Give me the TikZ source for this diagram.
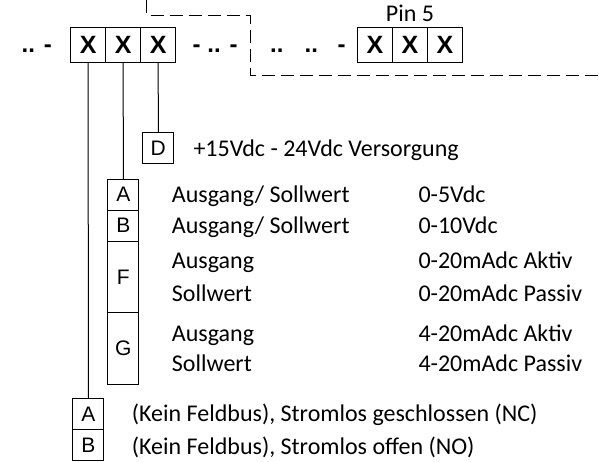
\documentclass[tikz,border=0pt]{standalone}
\usepackage{fontspec}
\setmainfont{Carlito}
\newfontfamily\arialfont{Liberation Sans}
\usetikzlibrary{positioning}

\begin{document}
\begin{tikzpicture}[x=1pt,y=-1pt,
    pin box/.style={draw,line width=1pt,outer sep=0pt,inner sep=0pt,minimum width=35pt,minimum height=35pt,font=\arialfont\bfseries\fontsize{25}{25}\selectfont},
    code box/.style={draw,line width=1pt,outer sep=0pt,inner sep=0pt,minimum width=31.3pt,minimum height=31pt,font=\arialfont\fontsize{21}{21}\selectfont},
    tall box/.style={code box,minimum height=71.5pt},
    label text/.style={anchor=base west,inner sep=0pt,font=\fontsize{24}{24}\selectfont},
    dots/.style={anchor=base west,inner sep=0pt,font=\arialfont\bfseries\fontsize{24}{24}\selectfont}]
    \useasboundingbox (0,0) rectangle (599,461);

    % pin row, left part
    \node[pin box] (x1) at (88.2,45) {X};
    \node[pin box] (x2) [right = 0pt of x1] {X};
    \node[pin box] (x3) [right = 0pt of x2] {X};
    \node[dots] (dl) at (21.5,52) {.. -};
    \node[dots] (dm) at (192.5,52) {- .. -};

    % pin row, right part
    \node[dots] (dr1) at (270,52) {..};
    \node[dots] (dr2) at (304.5,52) {..};
    \node[dots] (dr3) at (337.5,52) {-};
    \node[pin box] (p1) at (374.9,45) {X};
    \node[pin box] (p2) [right = 0pt of p1] {X};
    \node[pin box] (p3) [right = 0pt of p2] {X};
    \node[label text,anchor=base] (pin) at (p2.north |- 0,21.7) {Pin 5};

    % dashed border
    \coordinate (c1) at (146.7,0);
    \coordinate (c2) at (146.7,15);
    \coordinate (c3) at (250,15);
    \coordinate (c4) at (250,75);
    \coordinate (c5) at (599,75);
    \draw[line width=.7pt,dash pattern=on 13pt off 6pt] (c1) -- (c2) -- (c3) -- (c4) -- (c5);

    % supply
    \node[code box] (d) at (158.3,148.3) {D};
    \node[label text] (dtxt) at (193.3,156) {+15Vdc - 24Vdc Versorgung};

    % output / setpoint
    \node[code box] (a1) at (123.3,194.7) {A};
    \node[code box] (b1) [below = 0pt of a1] {B};
    \node[tall box] (f1) [below = 0pt of b1] {F};
    \node[tall box] (g1) [below = 0pt of f1] {G};
    \node[label text] (t1) at (171.7,202.5) {Ausgang/ Sollwert};
    \node[label text] (t2) at (171.7,233.5) {Ausgang/ Sollwert};
    \node[label text] (t3) at (171.7,268) {Ausgang};
    \node[label text] (t4) at (171.7,301) {Sollwert};
    \node[label text] (t5) at (171.7,341) {Ausgang};
    \node[label text] (t6) at (171.7,371) {Sollwert};
    \node[label text] (v1) at (418.3,202.5) {0-5Vdc};
    \node[label text] (v2) at (418.3,233.5) {0-10Vdc};
    \node[label text] (v3) at (418.3,268) {0-20mAdc Aktiv};
    \node[label text] (v4) at (418.3,301) {0-20mAdc Passiv};
    \node[label text] (v5) at (418.3,341) {4-20mAdc Aktiv};
    \node[label text] (v6) at (418.3,371) {4-20mAdc Passiv};

    % fieldbus
    \node[code box] (a2) at (88.3,414.2) {A};
    \node[code box] (b2) [below = 0pt of a2] {B};
    \node[label text] (k1) at (131.7,421) {(Kein Feldbus), Stromlos geschlossen (NC)};
    \node[label text] (k2) at (131.7,454.5) {(Kein Feldbus), Stromlos offen (NO)};

    \path[draw,line width=1pt]
    (x1) -- (a2)
    (x2) -- (a1)
    (x3) -- (d)
    ;
\end{tikzpicture}
\end{document}
